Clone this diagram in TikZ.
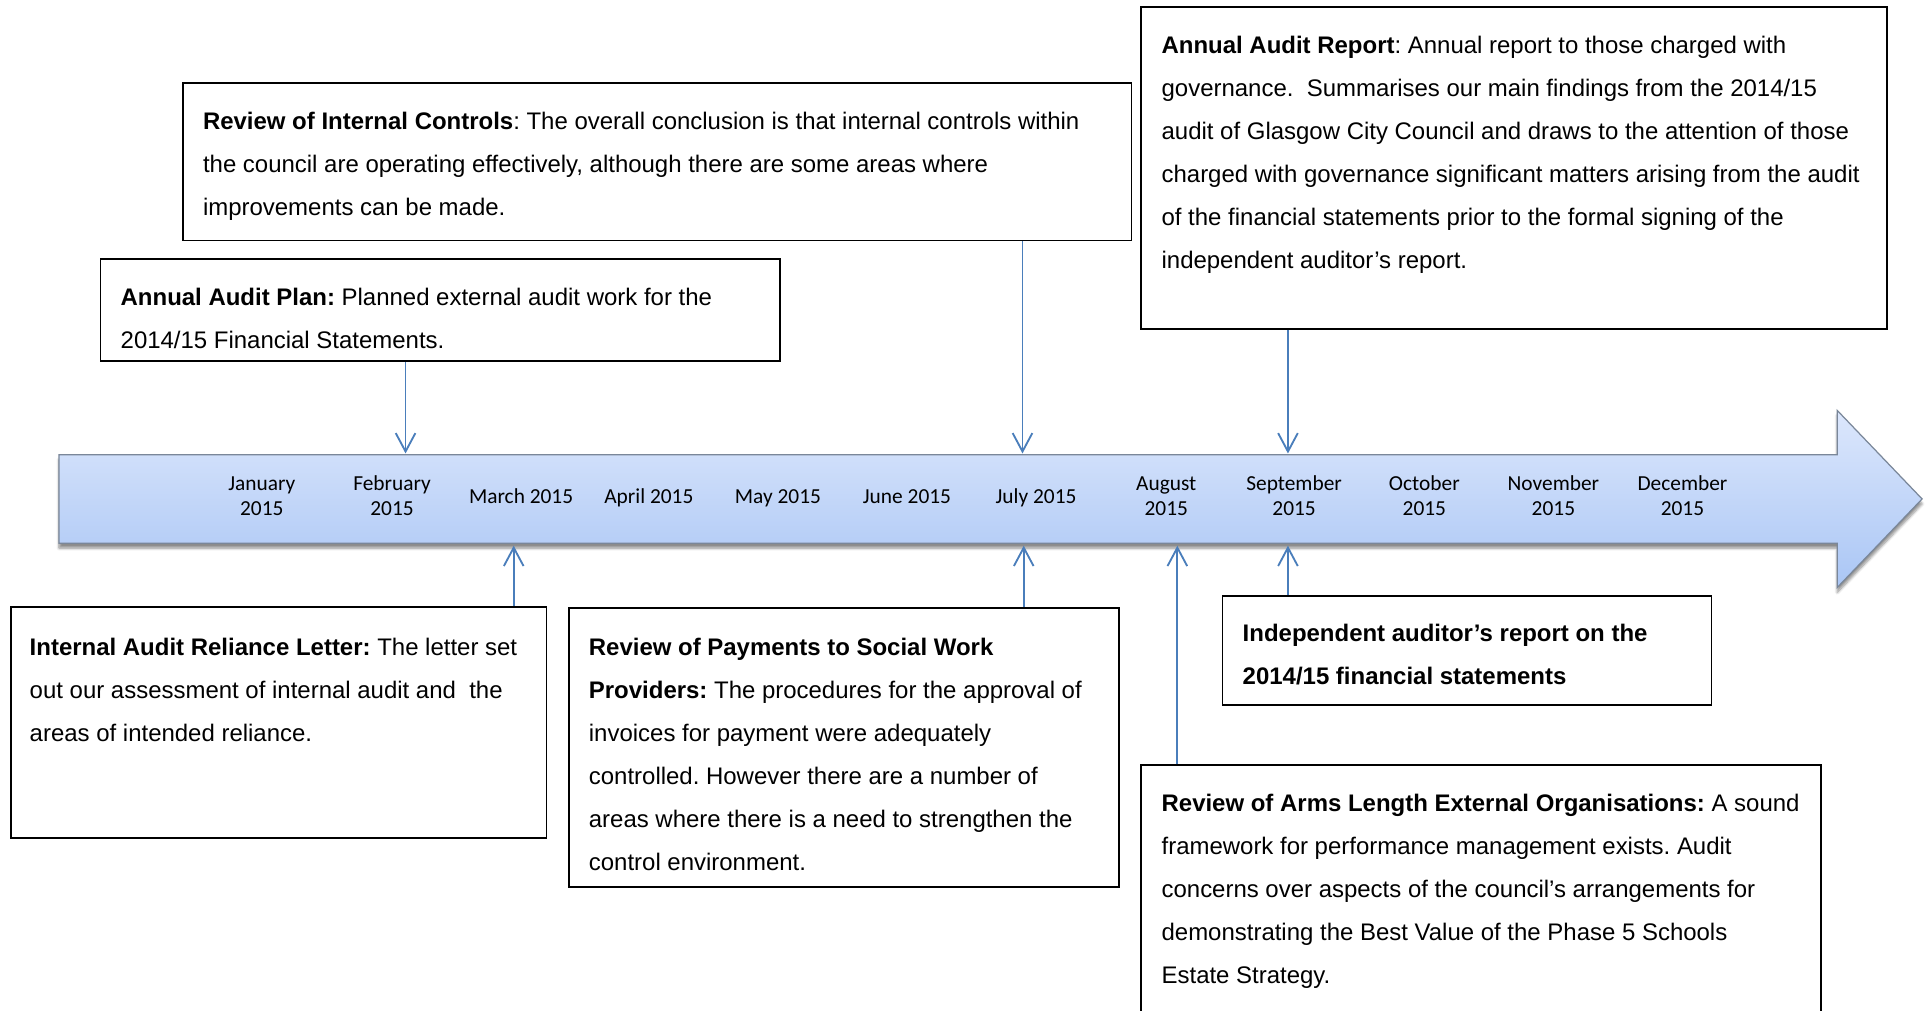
\documentclass[tikz,border=0pt]{standalone}
\usepackage{fontspec}
\setmainfont{Liberation Sans}
\newfontfamily\calfont{Carlito}
\usetikzlibrary{arrows.meta,shadows.blur}
\definecolor{conncol}{HTML}{4A7EBB}
\definecolor{bartop}{HTML}{DCE7FC}
\definecolor{barbot}{HTML}{AAC6F5}
\definecolor{baredge}{HTML}{7A8799}
\tikzset{
  box/.style={draw=black, line width=1.4pt, rectangle, inner sep=0pt, anchor=north west},
  txt/.style={anchor=north west, inner sep=0pt, align=left, font=\frenchspacing\fontsize{19.5}{35}\selectfont},
  month/.style={align=center, inner sep=0pt, font=\calfont\fontsize{17.4}{20.5}\selectfont},
  conn/.style={draw=conncol, line width=1.5pt, -{Straight Barb[length=15pt,width=16pt,line width=1.5pt]}},
}
\begin{document}
\begin{tikzpicture}[x=1pt,y=-1pt]
\useasboundingbox (0,0) rectangle (1568,822);
% timeline bar
\path[blur shadow={shadow xshift=0pt,shadow yshift=-4pt,shadow blur steps=6,shadow opacity=45},
      top color=bartop, bottom color=barbot, draw=baredge, line width=1pt]
  (48,370) -- (1495,370) -- (1495,334) -- (1564,406) -- (1495,478) -- (1495,442) -- (48,442) -- cycle;
% months
\node[month] (m1) at (213,405.5) {\strut January\\\strut 2015};
\node[month] (m2) at (319,405.5) {\strut February\\\strut 2015};
\node[month] (m3) at (424,405.5) {\strut March 2015};
\node[month] (m4) at (528,405.5) {\strut April 2015};
\node[month] (m5) at (633,405.5) {\strut May 2015};
\node[month] (m6) at (738,405.5) {\strut June 2015};
\node[month] (m7) at (843,405.5) {\strut July 2015};
\node[month] (m8) at (949,405.5) {\strut August\\\strut 2015};
\node[month] (m9) at (1053,405.5) {\strut September\\\strut 2015};
\node[month] (m10) at (1159,405.5) {\strut October\\\strut 2015};
\node[month] (m11) at (1264,405.5) {\strut November\\\strut 2015};
\node[month] (m12) at (1369,405.5) {\strut December\\\strut 2015};
% coordinates on the bar
\coordinate (febT) at (330,369);
\coordinate (julT) at (832,369);
\coordinate (sepT) at (1048,369);
\coordinate (marB) at (418,444);
\coordinate (julB) at (833,444);
\coordinate (augB) at (958,444);
\coordinate (sepB) at (1048,444);
% boxes
\node[box, minimum width=772pt, minimum height=128pt] (ric) at (148,67) {};
\node[txt] (ricT) at (165,91) {\textbf{Review of Internal Controls}: The overall conclusion is that internal controls within\\
the council are operating effectively, although there are some areas where\\
improvements can be made.};
\node[box, minimum width=553pt, minimum height=83pt] (plan) at (81,210) {};
\node[txt] (planT) at (98,234) {\textbf{Annual Audit Plan:} Planned external audit work for the\\
2014/15 Financial Statements.};
\node[box, minimum width=607pt, minimum height=262pt] (aar) at (928,5) {};
\node[txt] (aarT) at (945,29) {\textbf{Annual Audit Report}: Annual report to those charged with\\
governance.~ Summarises our main findings from the 2014/15\\
audit of Glasgow City Council and draws to the attention of those\\
charged with governance significant matters arising from the audit\\
of the financial statements prior to the formal signing of the\\
independent auditor’s report.};
\node[box, minimum width=436pt, minimum height=188pt] (iarl) at (8,493) {};
\node[txt] (iarlT) at (24,519) {\textbf{Internal Audit Reliance Letter:} The letter set\\
out our assessment of internal audit and~ the\\
areas of intended reliance.};
\node[box, minimum width=448pt, minimum height=227pt] (pay) at (462,494) {};
\node[txt] (payT) at (479,519) {\textbf{Review of Payments to Social Work}\\
\textbf{Providers:} The procedures for the approval of\\
invoices for payment were adequately\\
controlled. However there are a number of\\
areas where there is a need to strengthen the\\
control environment.};
\node[box, minimum width=398pt, minimum height=89pt] (ind) at (994,484) {};
\node[txt] (indT) at (1011,508) {\textbf{Independent auditor’s report on the}\\
\textbf{2014/15 financial statements}};
\node[box, minimum width=553pt, minimum height=260pt] (aleo) at (928,622) {};
\node[txt] (aleoT) at (945,646) {\textbf{Review of Arms Length External Organisations:} A sound\\
framework for performance management exists. Audit\\
concerns over aspects of the council’s arrangements for\\
demonstrating the Best Value of the Phase 5 Schools\\
Estate Strategy.};
% connectors
\draw[conn] (plan.south -| febT) -- (febT);
\draw[conn] (ric.south -| julT) -- (julT);
\draw[conn] (aar.south -| sepT) -- (sepT);
\draw[conn] (iarl.north -| marB) -- (marB);
\draw[conn] (pay.north -| julB) -- (julB);
\draw[conn] (aleo.north -| augB) -- (augB);
\draw[conn] (ind.north -| sepB) -- (sepB);
\end{tikzpicture}
\end{document}
